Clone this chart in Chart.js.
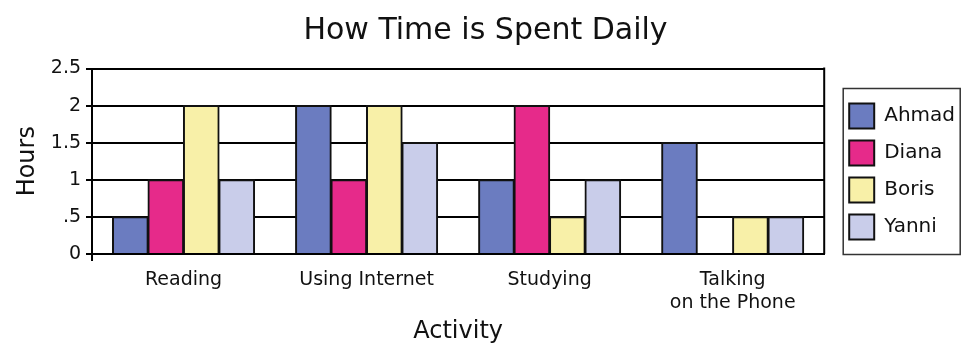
<!DOCTYPE html>
<html>
<head>
<meta charset="utf-8">
<script src="https://cdn.jsdelivr.net/npm/chart.js@4"></script>
<style>
  html, body { margin: 0; padding: 0; background: #fff; }
  #wrap { width: 966px; height: 343px; }
</style>
</head>
<body>
<div id="wrap"><canvas id="timeChart"></canvas></div>
<script>
const activities = ['Reading', 'Using Internet', 'Studying', ['Talking', 'on the Phone']];
const ahmad = [0.5, 2, 1, 1.5];
const diana = [1, 1, 2, 0];
const boris = [2, 2, 0.5, 0.5];
const yanni = [1, 1.5, 1, 0.5];
const yTicks = [0, 0.5, 1, 1.5, 2, 2.5];

const font = 'DejaVu Sans, Verdana, sans-serif';
const legendShift = 13;

// right frame line + a box round the legend, legend pushed away from the plot
const framePlugin = {
    id: 'frame',
    afterInit(chart) {
        const lg = chart.legend;
        const fit = lg.fit;
        lg.fit = function () {
            fit.call(this);
            this.width += 10;
        };
        const draw = lg.draw;
        lg.draw = function () {
            const c = this.ctx;
            c.save();
            c.translate(legendShift, 0);
            draw.call(this);
            c.restore();
        };
    },
    afterDraw(chart) {
        const ctx = chart.ctx;
        const a = chart.chartArea;
        ctx.save();
        ctx.strokeStyle = '#000';
        ctx.lineWidth = 2;
        ctx.beginPath();
        ctx.moveTo(a.right, a.top - 1);
        ctx.lineTo(a.right, a.bottom);
        // little tick under the origin
        ctx.moveTo(a.left, a.bottom);
        ctx.lineTo(a.left, a.bottom + 7);
        ctx.stroke();

        const boxes = chart.legend.legendHitBoxes;
        if (boxes.length) {
            const first = boxes[0];
            const last = boxes[boxes.length - 1];
            const x0 = first.left + legendShift - 6;
            const y0 = first.top - 15;
            ctx.lineWidth = 1.5;
            ctx.strokeStyle = '#333';
            ctx.strokeRect(x0, y0, 117, last.top + 25 + 15 - y0);
        }
        ctx.restore();
    }
};

const ctx = document.getElementById('timeChart').getContext('2d');
new Chart(ctx, {
    type: 'bar',
    data: {
        labels: activities,
        datasets: [
            { label: 'Ahmad', data: ahmad, backgroundColor: '#6b7cc0' },
            { label: 'Diana', data: diana, backgroundColor: '#e62a8a' },
            { label: 'Boris', data: boris, backgroundColor: '#f8f0a8' },
            { label: 'Yanni', data: yanni, backgroundColor: '#c9cdea' }
        ].map(d => Object.assign(d, {
            borderColor: '#111', borderWidth: 2,
            categoryPercentage: 0.775, barPercentage: 1, inflateAmount: 0.6
        }))
    },
    options: {
        responsive: true,
        maintainAspectRatio: false,
        animation: false,
        layout: { padding: { left: 9, right: 4, top: 0, bottom: 0 } },
        plugins: {
            title: {
                display: true,
                text: 'How Time is Spent Daily',
                color: '#111',
                font: { family: font, size: 30, weight: 'normal', lineHeight: 1.15 },
                padding: { top: 14, bottom: 20 }
            },
            legend: {
                position: 'right',
                labels: {
                    color: '#111',
                    font: { family: font, size: 20 },
                    boxWidth: 25,
                    boxHeight: 25,
                    padding: 12
                }
            },
            tooltip: { enabled: false }
        },
        scales: {
            x: {
                grid: { display: false },
                border: { color: '#000', width: 2 },
                ticks: { color: '#111', font: { family: font, size: 19, lineHeight: 1.25 }, padding: 6 },
                title: { display: true, text: 'Activity', color: '#111', font: { family: font, size: 24, lineHeight: 0.9 }, padding: 0 }
            },
            y: {
                min: 0,
                max: 2.5,
                afterBuildTicks: axis => { axis.ticks = yTicks.map(v => ({ value: v })); },
                grid: { color: '#000', lineWidth: 2, drawTicks: true, tickLength: 6 },
                border: { color: '#000', width: 2 },
                ticks: {
                    color: '#111',
                    font: { family: font, size: 19 },
                    padding: 5,
                    callback: v => v === 0.5 ? '.5' : String(v)
                },
                title: { display: true, text: 'Hours', color: '#111', font: { family: font, size: 24 }, padding: 4 }
            }
        }
    },
    plugins: [framePlugin]
});
</script>
</body>
</html>
